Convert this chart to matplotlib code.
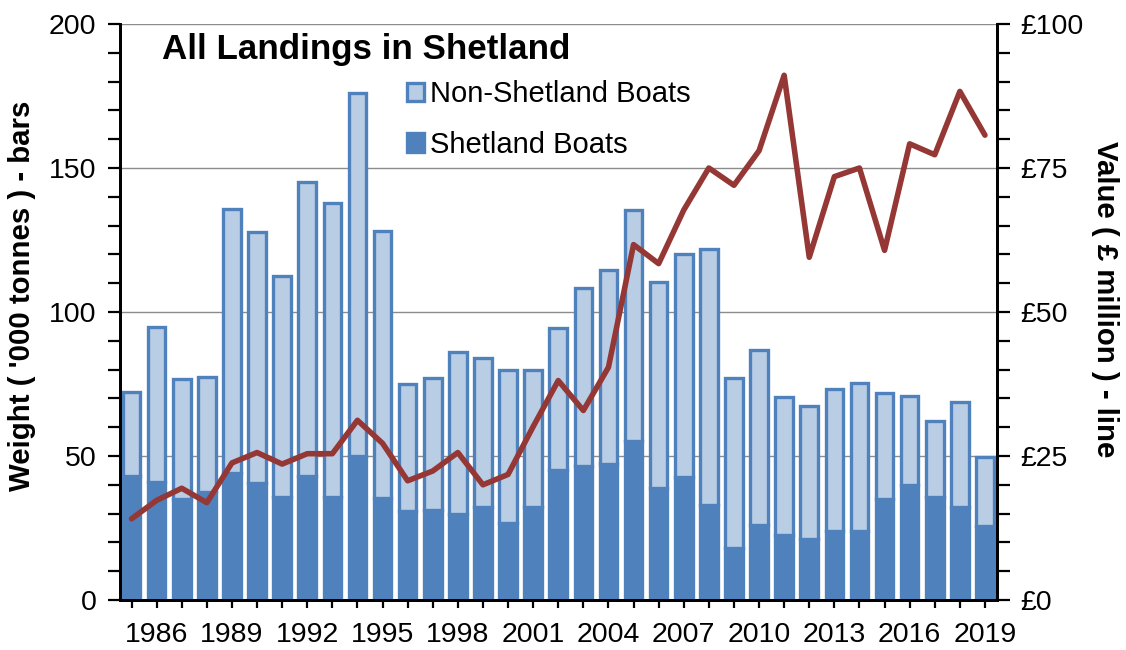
import matplotlib
matplotlib.use("Agg")
import matplotlib.pyplot as plt
from matplotlib.patches import Patch
from matplotlib.ticker import MultipleLocator, FuncFormatter

plt.rcParams['font.family'] = ['Liberation Sans', 'DejaVu Sans']

years = list(range(1985, 2020))
shetland = [43.1, 40.9, 34.9, 37.5, 44.2, 40.5, 35.8, 43.1, 35.9, 49.9,
            35.5, 30.9, 31.3, 29.9, 32.2, 26.6, 32.2, 45.3, 46.6, 47.3,
            55.2, 38.9, 42.6, 32.9, 18.2, 26.2, 22.6, 21.3, 23.8, 24.0,
            35.1, 39.8, 35.8, 32.2, 25.8]
non_shetland = [29.2, 54.0, 41.7, 39.9, 91.7, 87.3, 76.8, 102.0, 102.0, 126.0,
                92.7, 44.1, 45.7, 56.1, 51.8, 53.3, 47.7, 49.2, 61.9, 67.2,
                80.3, 71.6, 77.6, 89.1, 59.0, 60.5, 47.9, 46.1, 49.4, 51.4,
                36.8, 31.2, 26.5, 36.4, 23.9]
value = [14.1, 17.3, 19.4, 16.9, 23.8, 25.6, 23.6, 25.4, 25.4, 31.2,
         27.2, 20.7, 22.4, 25.6, 20.0, 21.8, 30.1, 38.1, 32.9, 40.4,
         61.7, 58.4, 67.7, 75.0, 72.0, 78.0, 91.1, 59.5, 73.5, 75.0,
         60.7, 79.2, 77.3, 88.3, 80.7]
label_years = list(range(1986, 2020, 3))

dark = '#4F81BD'
light = '#B9CDE5'
red = '#953735'

fig = plt.figure(figsize=(11.26, 6.5), dpi=100)
ax = fig.add_axes([120/1126, 50/650, (997-120)/1126, (600-24)/650])
ax2 = ax.twinx()

ax.set_axisbelow(True)
ax.yaxis.grid(True, which='major', color='#8c8c8c', lw=1.0)

ax.bar(years, shetland, width=0.7, color=dark, edgecolor=dark, lw=2.4,
       label='Shetland Boats', zorder=2)
ax.bar(years, non_shetland, bottom=shetland, width=0.7, color=light,
       edgecolor=dark, lw=2.4, label='Non-Shetland Boats', zorder=2)

ax2.plot(years, value, color=red, lw=4.0, solid_joinstyle='round',
         solid_capstyle='round', zorder=3)

ax.set_xlim(1984.54, 2019.48)
ax.set_ylim(0, 200)
ax2.set_ylim(0, 100)

ax.yaxis.set_major_locator(MultipleLocator(50))
ax.yaxis.set_minor_locator(MultipleLocator(10))
ax2.yaxis.set_major_locator(MultipleLocator(25))
ax2.yaxis.set_minor_locator(MultipleLocator(5))
ax2.yaxis.set_major_formatter(FuncFormatter(lambda v, p: f"£{v:.0f}"))
ax.set_xticks(label_years)
ax.set_xticks(years, minor=True)

for a in (ax, ax2):
    a.tick_params(axis='both', which='both', direction='out', length=7,
                  width=1.6, labelsize=20.5, color='black')
    a.tick_params(axis='y', which='both', pad=8)
    a.spines['top'].set_visible(False)
    for s in ('left', 'right', 'bottom'):
        a.spines[s].set_linewidth(2.0)
ax.tick_params(axis='x', which='both', length=6, pad=10)
ax.tick_params(axis='y', which='both', length=9)
ax2.tick_params(axis='y', which='both', length=9)

fig.text(22/1126, 1 - 296/650, "Weight ( '000 tonnes ) - bars", rotation=90,
         ha='center', va='center', fontsize=21.2, fontweight='bold')
fig.text(1105/1126, 1 - 299/650, "Value ( £ million ) - line", rotation=-90,
         ha='center', va='center', fontsize=21.2, fontweight='bold')

fig.text(162/1126, 1 - 50/650, "All Landings in Shetland", ha='left',
         va='center', fontsize=25.2, fontweight='bold')

handles = [Patch(facecolor=light, edgecolor=dark, lw=2.4),
           Patch(facecolor=dark, edgecolor=dark, lw=2.4)]
leg = ax2.legend(handles, ['Non-Shetland Boats', 'Shetland Boats'],
                 loc='upper left', bbox_to_anchor=(407/1126, 1 - 80/650),
                 bbox_transform=fig.transFigure, frameon=False, fontsize=21,
                 handlelength=0.58, handleheight=0.58, handletextpad=0.22,
                 labelspacing=0.78, borderpad=0, borderaxespad=0)

fig.savefig('out.png', dpi=100)
